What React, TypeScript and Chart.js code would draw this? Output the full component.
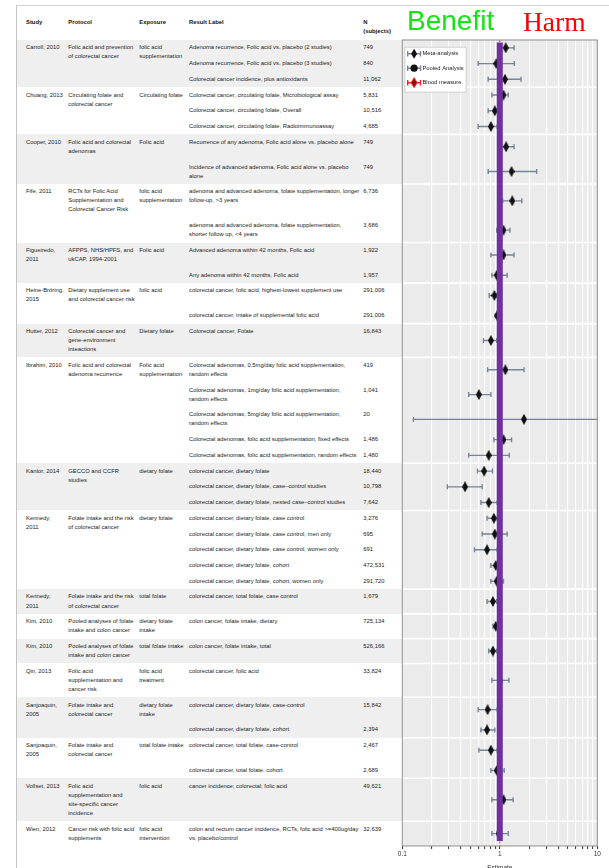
import React, { useEffect, useRef } from "react";
import { Chart, registerables } from "chart.js";

Chart.register(...registerables);

// ---------- data ----------
const headers = ["Study", "Protocol", "Exposure", "Result Label", "N\n(subjects)"];

const studies = [
  "Carroll, 2010", "Chuang, 2013", "Cooper, 2010", "Fife, 2011", "Figueiredo,\n2011",
  "Heine-Bröring,\n2015", "Hutter, 2012", "Ibrahim, 2010", "Kantor, 2014", "Kennedy,\n2011",
  "Kennedy,\n2011", "Kim, 2010", "Kim, 2010", "Qin, 2013", "Sanjoaquin,\n2005",
  "Sanjoaquin,\n2005", "Vollset, 2013", "Wien, 2012",
];

const protocols = [
  "Folic acid and prevention\nof colorectal cancer",
  "Circulating folate and\ncolorectal cancer",
  "Folic acid and colorectal\nadenomas",
  "RCTs for Folic Acid\nSupplementation and\nColorectal Cancer Risk",
  "AFPPS, NHS/HPFS, and\nukCAP, 1994-2001",
  "Dietary supplement use\nand colorectal cancer risk",
  "Colorectal cancer and\ngene-environment\ninteactions",
  "Folic acid and colorectal\nadenoma recurrence",
  "GECCO and CCFR\nstudies",
  "Folate intake and the risk\nof colorectal cancer",
  "Folate intake and the risk\nof colorectal cancer",
  "Pooled analyses of folate\nintake and colon cancer",
  "Pooled analyses of folate\nintake and colon cancer",
  "Folic acid\nsupplementation and\ncancer risk",
  "Folate intake and\ncolorectal cancer",
  "Folate intake and\ncolorectal cancer",
  "Folic acid\nsupplementation and\nsite-specific cancer\nincidence",
  "Cancer risk with folic acid\nsupplements",
];

const exposures = [
  "folic acid\nsupplementation", "Circulating folate", "Folic acid", "folic acid\nsupplementation",
  "Folic acid", "folic acid", "Dietary folate", "Folic acid\nsupplementation", "dietary folate",
  "dietary folate", "total folate", "dietary folate\nintake", "total folate intake",
  "folic acid\ntreatment", "dietary folate\nintake", "total folate intake", "folic acid",
  "folic acid\nintervention",
];

const groupSizes = [3, 3, 2, 2, 2, 2, 1, 5, 3, 5, 1, 1, 1, 1, 2, 2, 1, 1];

const resultLabels = [
  "Adenoma recurrence, Folic acid vs. placebo (2 studies)",
  "Adenoma recurrence, Folic acid vs. placebo (3 studies)",
  "Colorectal cancer incidence, plus antioxidants",
  "Colorectal cancer, circulating folate, Microbiological assay",
  "Colorectal cancer, circulating folate, Overall",
  "Colorectal cancer, circulating folate, Radioimmunoassay",
  "Recurrence of any adenoma, Folic acid alone vs. placebo alone",
  "Incidence of advanced adenoma, Folic acid alone vs. placebo\nalone",
  "adenoma and advanced adenoma, folate supplementation, longer\nfollow-up, >3 years",
  "adenoma and advanced adenoma, folate supplementation,\nshorter follow up, <4 years",
  "Advanced adenoma within 42 months, Folic acid",
  "Any adenoma within 42 months, Folic acid",
  "colorectal cancer, folic acid, highest-lowest supplement use",
  "colorectal cancer, intake of supplemental folic acid",
  "Colorectal cancer, Folate",
  "Colorectal adenomas, 0.5mg/day folic acid supplementation,\nrandom effects",
  "Colorectal adenomas, 1mg/day folic acid supplementation,\nrandom effects",
  "Colorectal adenomas, 5mg/day folic acid supplementation,\nrandom effects",
  "Colorectal adenomas, folic acid supplementation, fixed effects",
  "Colorectal adenomas, folic acid supplementation, random effects",
  "colorectal cancer, dietary folate",
  "colorectal cancer, dietary folate, case\u2013control studies",
  "colorectal cancer, dietary folate, nested case\u2013control studies",
  "colorectal cancer, dietary folate, case control",
  "colorectal cancer, dietary folate, case control, men only",
  "colorectal cancer, dietary folate, case control, women only",
  "colorectal cancer, dietary folate, cohort",
  "colorectal cancer, dietary folate, cohort, women only",
  "colorectal cancer, total folate, case control",
  "colon cancer, folate intake, dietary",
  "colon cancer, folate intake, total",
  "colorectal cancer, folic acid",
  "colorectal cancer, dietary folate, case-control",
  "colorectal cancer, dietary folate, cohort",
  "colorectal cancer, total folate, case-control",
  "colorectal cancer, total folate, cohort",
  "cancer incidence; colorectal; folic acid",
  "colon and rectum cancer incidence, RCTs, folic acid >=400ug/day\nvs. placebo/control",
];

const subjects = [
  749, 840, 11062, 5831, 10516, 4685, 749, 749, 6736, 3686, 1922, 1957, 291006, 291006, 16843,
  419, 1041, 20, 1486, 1480, 18440, 10798, 7642, 3276, 695, 691, 472531, 291720, 1679, 725134,
  526166, 33824, 15842, 2394, 2467, 2689, 49621, 32639,
];

const estimates = [
  1.15, 0.92, 1.13, 1.09, 0.89, 0.81, 1.16, 1.32, 1.34, 1.09, 1.09, 0.93, 0.88, 0.94, 0.81,
  1.14, 0.61, 1.77, 1.09, 0.77, 0.69, 0.44, 0.77, 0.87, 0.89, 0.74, 0.91, 0.93, 0.85, 0.91,
  0.85, 1.01, 0.75, 0.74, 0.81, 0.93, 1.09, 0.97,
];

const lowerCI = [
  0.96, 0.6, 0.76, 0.83, 0.76, 0.6, 0.97, 0.76, 1.07, 0.93, 0.81, 0.83, 0.78, 0.9, 0.68,
  0.75, 0.48, 0.13, 0.87, 0.48, 0.59, 0.29, 0.64, 0.74, 0.66, 0.55, 0.81, 0.81, 0.74, 0.85,
  0.77, 0.83, 0.6, 0.64, 0.61, 0.81, 0.83, 0.83,
];

const upperCI = [
  1.4, 1.41, 1.65, 1.22, 0.94, 0.94, 1.4, 2.39, 1.68, 1.27, 1.4, 1.19, 0.93, 0.98, 0.93,
  1.77, 0.81, 25, 1.32, 1.25, 0.84, 0.66, 0.94, 0.94, 1.19, 0.94, 0.96, 1.09, 0.93, 0.96,
  0.93, 1.24, 0.94, 0.89, 0.94, 1.11, 1.37, 1.22,
];

const xTickValues = [0.1, 0.2, 0.3, 0.4, 0.5, 0.6, 0.7, 0.8, 0.9, 1, 2, 3, 4, 5, 6, 7, 8, 9, 10];
const xTickLabels = ["0.1", "1", "10"];
const xAxisTitle = "Estimate";
const referenceValue = 1;
const legendLabels = ["Meta-analysis", "Pooled Analysis", "Blood measure"];
const benefitText = "Benefit";
const harmText = "Harm";

// ---------- styling ----------
const FONT = '"Liberation Sans", Arial, Helvetica, sans-serif';
const COLS = [9, 42.3, 71, 49.7, 174.3, 38.7];
const BAR = "#74849a";
const PURPLE = "#7030a0";

function makeDiamond(w: number, h: number, fill: string) {
  const c = document.createElement("canvas");
  c.width = w;
  c.height = h;
  const g = c.getContext("2d")!;
  g.fillStyle = fill;
  g.beginPath();
  g.moveTo(w / 2, 0);
  g.lineTo(w, h / 2);
  g.lineTo(w / 2, h);
  g.lineTo(0, h / 2);
  g.closePath();
  g.fill();
  return c;
}

function diamondPath(ctx: CanvasRenderingContext2D, x: number, y: number, w: number, h: number) {
  ctx.beginPath();
  ctx.moveTo(x, y - h / 2);
  ctx.lineTo(x + w / 2, y);
  ctx.lineTo(x, y + h / 2);
  ctx.lineTo(x - w / 2, y);
  ctx.closePath();
}

export default function App() {
  const tbodyRef = useRef<HTMLTableSectionElement>(null);
  const canvasRef = useRef<HTMLCanvasElement>(null);

  useEffect(() => {
    const tb = tbodyRef.current!;
    const cv = canvasRef.current!;
    const tbRect = tb.getBoundingClientRect();
    const cvRect = cv.getBoundingClientRect();
    const rows = Array.from(tb.rows);
    const rowCenters = rows.map((r) => {
      const b = r.getBoundingClientRect();
      return b.top - tbRect.top + b.height / 2;
    });
    const groupTops: number[] = [];
    let idx = 0;
    groupSizes.forEach((n) => {
      groupTops.push(rows[idx].getBoundingClientRect().top - tbRect.top);
      idx += n;
    });
    const span = tbRect.height;
    const padTop = tbRect.top - cvRect.top;
    const wantBottom = tbRect.bottom - cvRect.top;
    const points = estimates.map((e, i) => ({ x: e, y: rowCenters[i] }));
    const diamond = makeDiamond(6, 11, "#111");

    Chart.defaults.font.family = FONT;

    const forestPlugin = {
      id: "forest",
      beforeDraw(chart: any) {
        const { ctx, chartArea: a } = chart;
        ctx.save();
        ctx.fillStyle = "#ebebeb";
        ctx.fillRect(a.left, a.top, a.right - a.left, a.bottom - a.top);
        ctx.restore();
      },
      beforeDatasetsDraw(chart: any) {
        const { ctx, chartArea: a, scales } = chart;
        const xs = scales.x;
        const ys = scales.y;
        ctx.save();
        ctx.beginPath();
        ctx.rect(a.left, a.top, a.right - a.left, a.bottom - a.top);
        ctx.clip();
        ctx.strokeStyle = "#ffffff";
        ctx.lineWidth = 1.6;
        groupTops.slice(1).forEach((v) => {
          const y = ys.getPixelForValue(v);
          ctx.beginPath();
          ctx.moveTo(a.left, y);
          ctx.lineTo(a.right, y);
          ctx.stroke();
        });
        ctx.strokeStyle = BAR;
        ctx.lineWidth = 1.4;
        points.forEach((p, i) => {
          const y = ys.getPixelForValue(p.y);
          const x1 = xs.getPixelForValue(lowerCI[i]);
          const x2 = xs.getPixelForValue(upperCI[i]);
          ctx.beginPath();
          ctx.moveTo(x1, y);
          ctx.lineTo(x2, y);
          ctx.moveTo(x1, y - 2.5);
          ctx.lineTo(x1, y + 2.5);
          ctx.moveTo(x2, y - 2.5);
          ctx.lineTo(x2, y + 2.5);
          ctx.stroke();
        });
        ctx.restore();
      },
      afterDatasetsDraw(chart: any) {
        const { ctx, chartArea: a, scales } = chart;
        const x = scales.x.getPixelForValue(referenceValue);
        ctx.save();
        ctx.strokeStyle = "#ff2020";
        ctx.lineWidth = 1;
        ctx.setLineDash([2, 1.5]);
        ctx.beginPath();
        ctx.moveTo(x, a.top);
        ctx.lineTo(x, a.bottom);
        ctx.stroke();
        ctx.setLineDash([]);
        ctx.strokeStyle = PURPLE;
        ctx.lineWidth = 6;
        ctx.beginPath();
        ctx.moveTo(x, a.top + 2.5);
        ctx.lineTo(x, a.bottom - 5);
        ctx.stroke();
        ctx.strokeStyle = "#8e8e8e";
        ctx.lineWidth = 1;
        ctx.strokeRect(a.left, a.top, a.right - a.left, a.bottom - a.top);
        ctx.restore();
      },
      afterDraw(chart: any) {
        const { ctx, chartArea: a } = chart;
        const bx = a.left + 2;
        const by = a.top + 6.7;
        const bw = 62.4;
        const bh = 46;
        ctx.save();
        ctx.fillStyle = "#ffffff";
        ctx.fillRect(bx, by, bw, bh);
        ctx.strokeStyle = "#cccccc";
        ctx.lineWidth = 1;
        ctx.strokeRect(bx + 0.5, by + 0.5, bw - 1, bh - 1);
        legendLabels.forEach((lab, i) => {
          const y = by + 7 + i * 14.5;
          const x1 = bx + 3.4;
          const x2 = bx + 16.2;
          const xm = bx + 9.8;
          ctx.strokeStyle = i === 2 ? "#ee2222" : BAR;
          ctx.lineWidth = 1.4;
          ctx.beginPath();
          ctx.moveTo(x1, y);
          ctx.lineTo(x2, y);
          ctx.moveTo(x1, y - 2.8);
          ctx.lineTo(x1, y + 2.8);
          ctx.moveTo(x2, y - 2.8);
          ctx.lineTo(x2, y + 2.8);
          ctx.stroke();
          if (i === 0) {
            diamondPath(ctx, xm, y, 6, 10);
            ctx.fillStyle = "#111";
            ctx.fill();
          } else if (i === 1) {
            ctx.beginPath();
            ctx.arc(xm, y, 3.6, 0, Math.PI * 2);
            ctx.fillStyle = "#111";
            ctx.fill();
          } else {
            diamondPath(ctx, xm, y, 6, 10);
            ctx.fillStyle = "#8a1010";
            ctx.fill();
            ctx.strokeStyle = "#ff2a2a";
            ctx.lineWidth = 1;
            ctx.stroke();
          }
          ctx.fillStyle = "#222";
          ctx.font = `5.8px ${FONT}`;
          ctx.textBaseline = "middle";
          ctx.textAlign = "left";
          ctx.fillText(lab, bx + 18.2, y);
        });
        ctx.restore();
      },
    };

    const chart = new Chart(cv, {
      type: "scatter",
      data: {
        datasets: [
          {
            data: points,
            pointStyle: diamond as any,
            pointRadius: 5,
            pointHoverRadius: 5,
            backgroundColor: "#111",
            borderColor: "#111",
          },
        ],
      },
      options: {
        responsive: false,
        animation: false,
        events: [],
        layout: { padding: { left: 7.3, right: 11.7, top: padTop, bottom: 0 } },
        plugins: { legend: { display: false }, tooltip: { enabled: false }, title: { display: false } },
        scales: {
          x: {
            type: "logarithmic",
            min: 0.1,
            max: 10,
            afterBuildTicks: (axis: any) => {
              axis.ticks = xTickValues.map((v) => ({ value: v }));
            },
            ticks: {
              autoSkip: false,
              maxRotation: 0,
              color: "#333",
              padding: 1,
              font: { size: 6.5, family: FONT },
              callback: (v: any) => {
                const lab = xTickLabels.find((t) => Math.abs(Number(t) - Number(v)) < 1e-9);
                return lab ?? "";
              },
            },
            grid: { color: "#ffffff", lineWidth: 1.1, tickLength: 3, tickColor: "#444" },
            border: { display: false },
            title: {
              display: true,
              text: xAxisTitle,
              color: "#333",
              font: { size: 6.5, family: FONT },
              padding: { top: 6, bottom: 0 },
            },
          },
          y: { type: "linear", display: false, min: 0, max: span, reverse: true },
        },
      },
      plugins: [forestPlugin],
    });

    const diff = chart.chartArea.bottom - wantBottom;
    if (Math.abs(diff) > 0.05) {
      (chart.options.layout as any).padding.bottom = diff;
      chart.update();
    }

    return () => chart.destroy();
  }, []);

  const td: React.CSSProperties = {
    padding: "3.35px 0",
    lineHeight: "9.05px",
    verticalAlign: "top",
    whiteSpace: "pre",
    color: "#222",
    textAlign: "left",
  };
  const th: React.CSSProperties = {
    padding: "11.8px 0 4.1px 0",
    lineHeight: "9.05px",
    verticalAlign: "top",
    whiteSpace: "pre",
    color: "#111",
    fontWeight: "bold",
    textAlign: "left",
  };

  const bodyRows: React.ReactNode[] = [];
  let r = 0;
  groupSizes.forEach((n, g) => {
    const bg = g % 2 === 0 ? "#efefef" : "#ffffff";
    for (let k = 0; k < n; k++) {
      const cells: React.ReactNode[] = [<td key="sp" style={td} />];
      if (k === 0) {
        const rs = n >= 3 ? n : 1;
        cells.push(
          <td key="st" rowSpan={rs} style={td}>{studies[g]}</td>,
          <td key="pr" rowSpan={rs} style={td}>{protocols[g]}</td>,
          <td key="ex" rowSpan={rs} style={td}>{exposures[g]}</td>
        );
      } else if (n < 3) {
        cells.push(<td key="st" style={td} />, <td key="pr" style={td} />, <td key="ex" style={td} />);
      }
      cells.push(
        <td key="lb" style={td}>{resultLabels[r]}</td>,
        <td key="nn" style={td}>{subjects[r].toLocaleString("en-US")}</td>
      );
      bodyRows.push(
        <tr key={r} style={{ background: bg }}>
          {cells}
        </tr>
      );
      r++;
    }
  });

  return (
    <div
      style={{
        position: "fixed",
        left: 0,
        top: 0,
        width: 609,
        height: 868,
        overflow: "hidden",
        background: "#fff",
        fontFamily: FONT,
      }}
    >
      <div
        style={{
          position: "absolute",
          left: 16,
          top: 5,
          width: 620,
          height: 900,
          borderLeft: "1px solid #c4c4c4",
          borderTop: "1px solid #d0d0d0",
        }}
      />
      <table
        style={{
          position: "absolute",
          left: 17,
          top: 6,
          width: 385,
          tableLayout: "fixed",
          borderCollapse: "collapse",
          borderSpacing: 0,
          fontSize: "5.85px",
          fontFamily: FONT,
        }}
      >
        <colgroup>
          {COLS.map((w, i) => (
            <col key={i} style={{ width: w }} />
          ))}
        </colgroup>
        <thead>
          <tr>
            <th style={th} />
            {headers.map((h) => (
              <th key={h} style={th}>
                {h}
              </th>
            ))}
          </tr>
        </thead>
        <tbody ref={tbodyRef}>{bodyRows}</tbody>
      </table>
      <canvas
        ref={canvasRef}
        width={214}
        height={900}
        style={{ position: "absolute", left: 395, top: 0, width: 214, height: 900 }}
      />
      <div
        style={{
          position: "absolute",
          left: 407,
          top: 7,
          font: `28px/28px ${FONT}`,
          color: "#11e611",
          whiteSpace: "nowrap",
        }}
      >
        {benefitText}
      </div>
      <div
        style={{
          position: "absolute",
          left: 523,
          top: 7.7,
          font: `27.5px/27.5px "Liberation Serif", "Times New Roman", serif`,
          color: "#ff0000",
          whiteSpace: "nowrap",
        }}
      >
        {harmText}
      </div>
    </div>
  );
}
